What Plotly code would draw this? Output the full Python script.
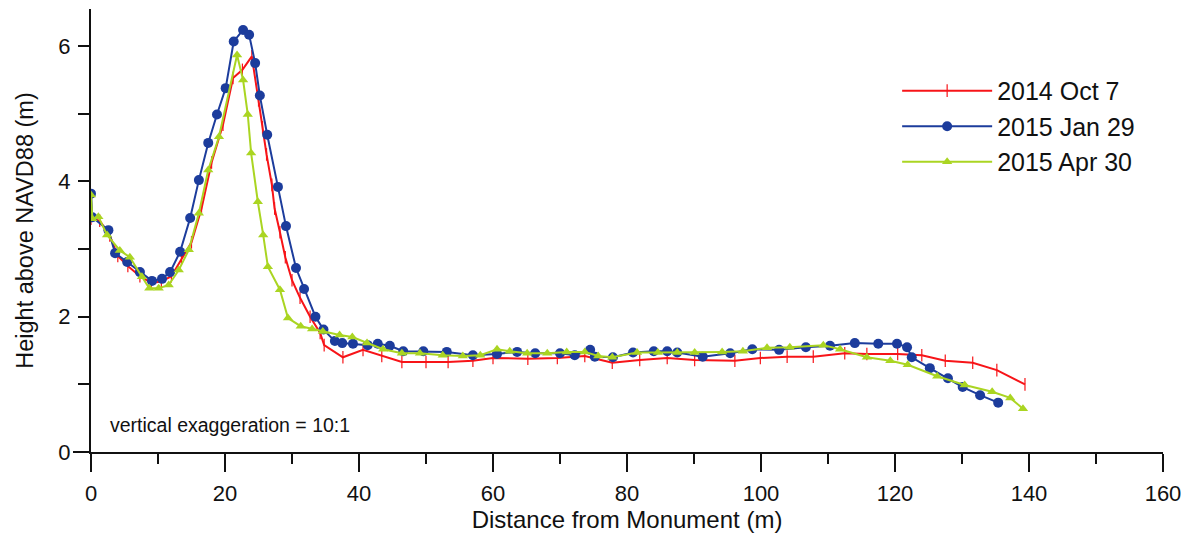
import plotly.graph_objects as go

# 2014 Oct 7
oct_x = [0, 1.3, 2.8, 4.0, 5.5, 7.3, 9.0, 10.5, 12.0, 13.5, 15.0, 16.5, 18.0, 19.7, 21.2, 22.6, 24.0,
         25.0, 25.6, 26.2, 27.0, 27.4, 28.2, 29.0, 30.0, 31.2, 32.7, 34.2, 34.8, 37.6, 40.6, 43.4, 46.4,
         50.0, 53.3, 57.0, 60.0, 65.2, 69.6, 73.7, 77.8, 81.9, 86.0, 90.1, 96.1, 99.9, 103.9, 107.8,
         112.5, 115.8, 120.4, 124.0, 127.5, 131.6, 135.2, 139.4]
oct_y = [3.45, 3.42, 3.2, 2.9, 2.75, 2.6, 2.5, 2.52, 2.6, 2.85, 3.1, 3.6, 4.28, 4.84, 5.53, 5.65, 5.85,
         5.2, 4.8, 4.4, 3.95, 3.6, 3.25, 2.88, 2.54, 2.28, 2.0, 1.76, 1.58, 1.4, 1.51, 1.42, 1.33,
         1.33, 1.33, 1.35, 1.39, 1.38, 1.39, 1.42, 1.32, 1.36, 1.39, 1.36, 1.35, 1.39, 1.41, 1.41,
         1.46, 1.45, 1.45, 1.43, 1.35, 1.32, 1.21, 1.0]

# 2015 Jan 29
jan_x = [0, 0.2, 2.6, 3.6, 5.4, 7.3, 9.1, 10.6, 11.8, 13.3, 14.8, 16.1, 17.5, 18.8, 20.1, 21.3, 22.7,
         23.6, 24.5, 25.2, 26.3, 27.9, 29.1, 30.6, 31.8, 33.5, 34.7, 36.4, 37.5, 39.1, 41.3, 42.8, 44.6,
         46.6, 49.6, 53.1, 57.0, 60.6, 63.6, 66.3, 70.0, 72.2, 74.5, 75.2, 77.9, 80.9, 84.0, 86.0, 87.5,
         91.3, 95.4, 98.7, 102.7, 106.7, 110.3, 114.0, 117.5, 120.3, 121.8, 122.5, 125.2, 127.9, 130.1,
         132.7, 135.4]
jan_y = [3.82, 3.47, 3.28, 2.94, 2.81, 2.66, 2.53, 2.56, 2.66, 2.96, 3.46, 4.02, 4.57, 4.99, 5.38, 6.07, 6.24,
         6.17, 5.75, 5.27, 4.69, 3.92, 3.34, 2.72, 2.41, 2.0, 1.81, 1.64, 1.61, 1.6, 1.58, 1.6, 1.57,
         1.49, 1.49, 1.48, 1.43, 1.45, 1.48, 1.46, 1.46, 1.43, 1.51, 1.41, 1.4, 1.47, 1.49, 1.49, 1.47,
         1.41, 1.46, 1.52, 1.51, 1.55, 1.57, 1.61, 1.6, 1.6, 1.55, 1.4, 1.24, 1.09, 0.96,
         0.84, 0.73]

# 2015 Apr 30
apr_x = [0, 0.2, 1.1, 2.4, 4.3, 5.8, 7.6, 8.7, 10.1, 11.6, 13.1, 14.6, 16.1, 17.5, 19.1, 21.8, 22.7,
         23.4, 23.9, 24.9, 25.7, 26.4, 28.2, 29.4, 31.3, 33.0, 34.6, 37.1, 39.0, 41.2, 43.6, 46.4, 49.1,
         52.5, 55.5, 58.1, 60.6, 62.5, 65.1, 68.1, 71.0, 73.7, 75.7, 77.8, 81.5, 84.6, 87.5, 90.1, 94.2,
         97.3, 100.9, 104.3, 109.3, 111.8, 115.8, 119.3, 121.9, 126.3, 130.4, 134.5, 137.2, 139.1]
apr_y = [3.8, 3.45, 3.48, 3.21, 2.98, 2.88, 2.59, 2.42, 2.42, 2.47, 2.69, 2.99, 3.53, 4.17, 4.66, 5.87, 5.5,
         4.99, 4.42, 3.7, 3.21, 2.74, 2.4, 1.98, 1.86, 1.82, 1.78, 1.73, 1.7, 1.61, 1.52, 1.46, 1.46,
         1.43, 1.42, 1.43, 1.52, 1.49, 1.46, 1.46, 1.48, 1.48, 1.42, 1.4, 1.47, 1.47, 1.47, 1.47, 1.48,
         1.49, 1.54, 1.55, 1.58, 1.52, 1.4, 1.35, 1.29, 1.12, 0.99, 0.89, 0.8, 0.64]

x_ticks = [0, 20, 40, 60, 80, 100, 120, 140, 160]
y_ticks = [0, 2, 4, 6]

FONT = "Liberation Sans, Arial, sans-serif"
RED = "#f71418"
BLUE = "#1c3c9c"
GREEN = "#aad522"

fig = go.Figure()
fig.add_trace(go.Scatter(x=oct_x, y=oct_y, mode="lines+markers", name="2014 Oct 7",
                         line=dict(color=RED, width=2),
                         marker=dict(symbol="line-ns", size=9, line=dict(color=RED, width=1.2))))
fig.add_trace(go.Scatter(x=jan_x, y=jan_y, mode="lines+markers", name="2015 Jan 29",
                         line=dict(color=BLUE, width=2),
                         marker=dict(symbol="circle", size=10, color=BLUE)))
fig.add_trace(go.Scatter(x=apr_x, y=apr_y, mode="lines+markers", name="2015 Apr 30",
                         line=dict(color=GREEN, width=2),
                         marker=dict(symbol="triangle-up", size=9, color=GREEN)))

fig.update_layout(
    width=1185, height=525,
    margin=dict(l=83, r=30, t=1, b=81),
    plot_bgcolor="white", paper_bgcolor="white",
    font=dict(family=FONT, size=22, color="#111"),
    showlegend=True,
    legend=dict(x=0.752, y=0.867, xanchor="left", yanchor="top",
                font=dict(family=FONT, size=25, color="#111"),
                itemwidth=90, tracegroupgap=0, bgcolor="rgba(0,0,0,0)"),
    xaxis=dict(range=[0, 160], tickvals=x_ticks, ticks="outside", ticklen=18, tickwidth=2,
               tickcolor="#111", showline=True, linecolor="#111", linewidth=2,
               showgrid=False, zeroline=False, automargin=False, ticklabelstandoff=3,
               minor=dict(dtick=10, ticks="outside", ticklen=10, tickwidth=2, tickcolor="#111"),
               title=dict(text="Distance from Monument (m)", standoff=2,
                          font=dict(family=FONT, size=24)),
               tickfont=dict(family=FONT, size=22)),
    yaxis=dict(range=[0, 6.55], tickvals=y_ticks, ticks="outside", ticklen=11, tickwidth=2,
               tickcolor="#111", showline=True, linecolor="#111", linewidth=2,
               showgrid=False, zeroline=False, automargin=False, ticklabelstandoff=3,
               minor=dict(dtick=1, ticks="outside", ticklen=11, tickwidth=2, tickcolor="#111"),
               title=dict(text="Height above NAVD88 (m)", standoff=18,
                          font=dict(family=FONT, size=23.5)),
               tickfont=dict(family=FONT, size=22)),
    annotations=[dict(x=0.016, y=0.40, xref="paper", yref="y", xanchor="left", yanchor="middle",
                      text="vertical exaggeration = 10:1", showarrow=False,
                      font=dict(family=FONT, size=19.5, color="#111"))],
    shapes=[dict(type="line", xref="paper", yref="paper", x0=-18 / 1072, x1=0, y0=0, y1=0,
                 line=dict(color="#111", width=2))],
)

fig.write_html("out.html")
